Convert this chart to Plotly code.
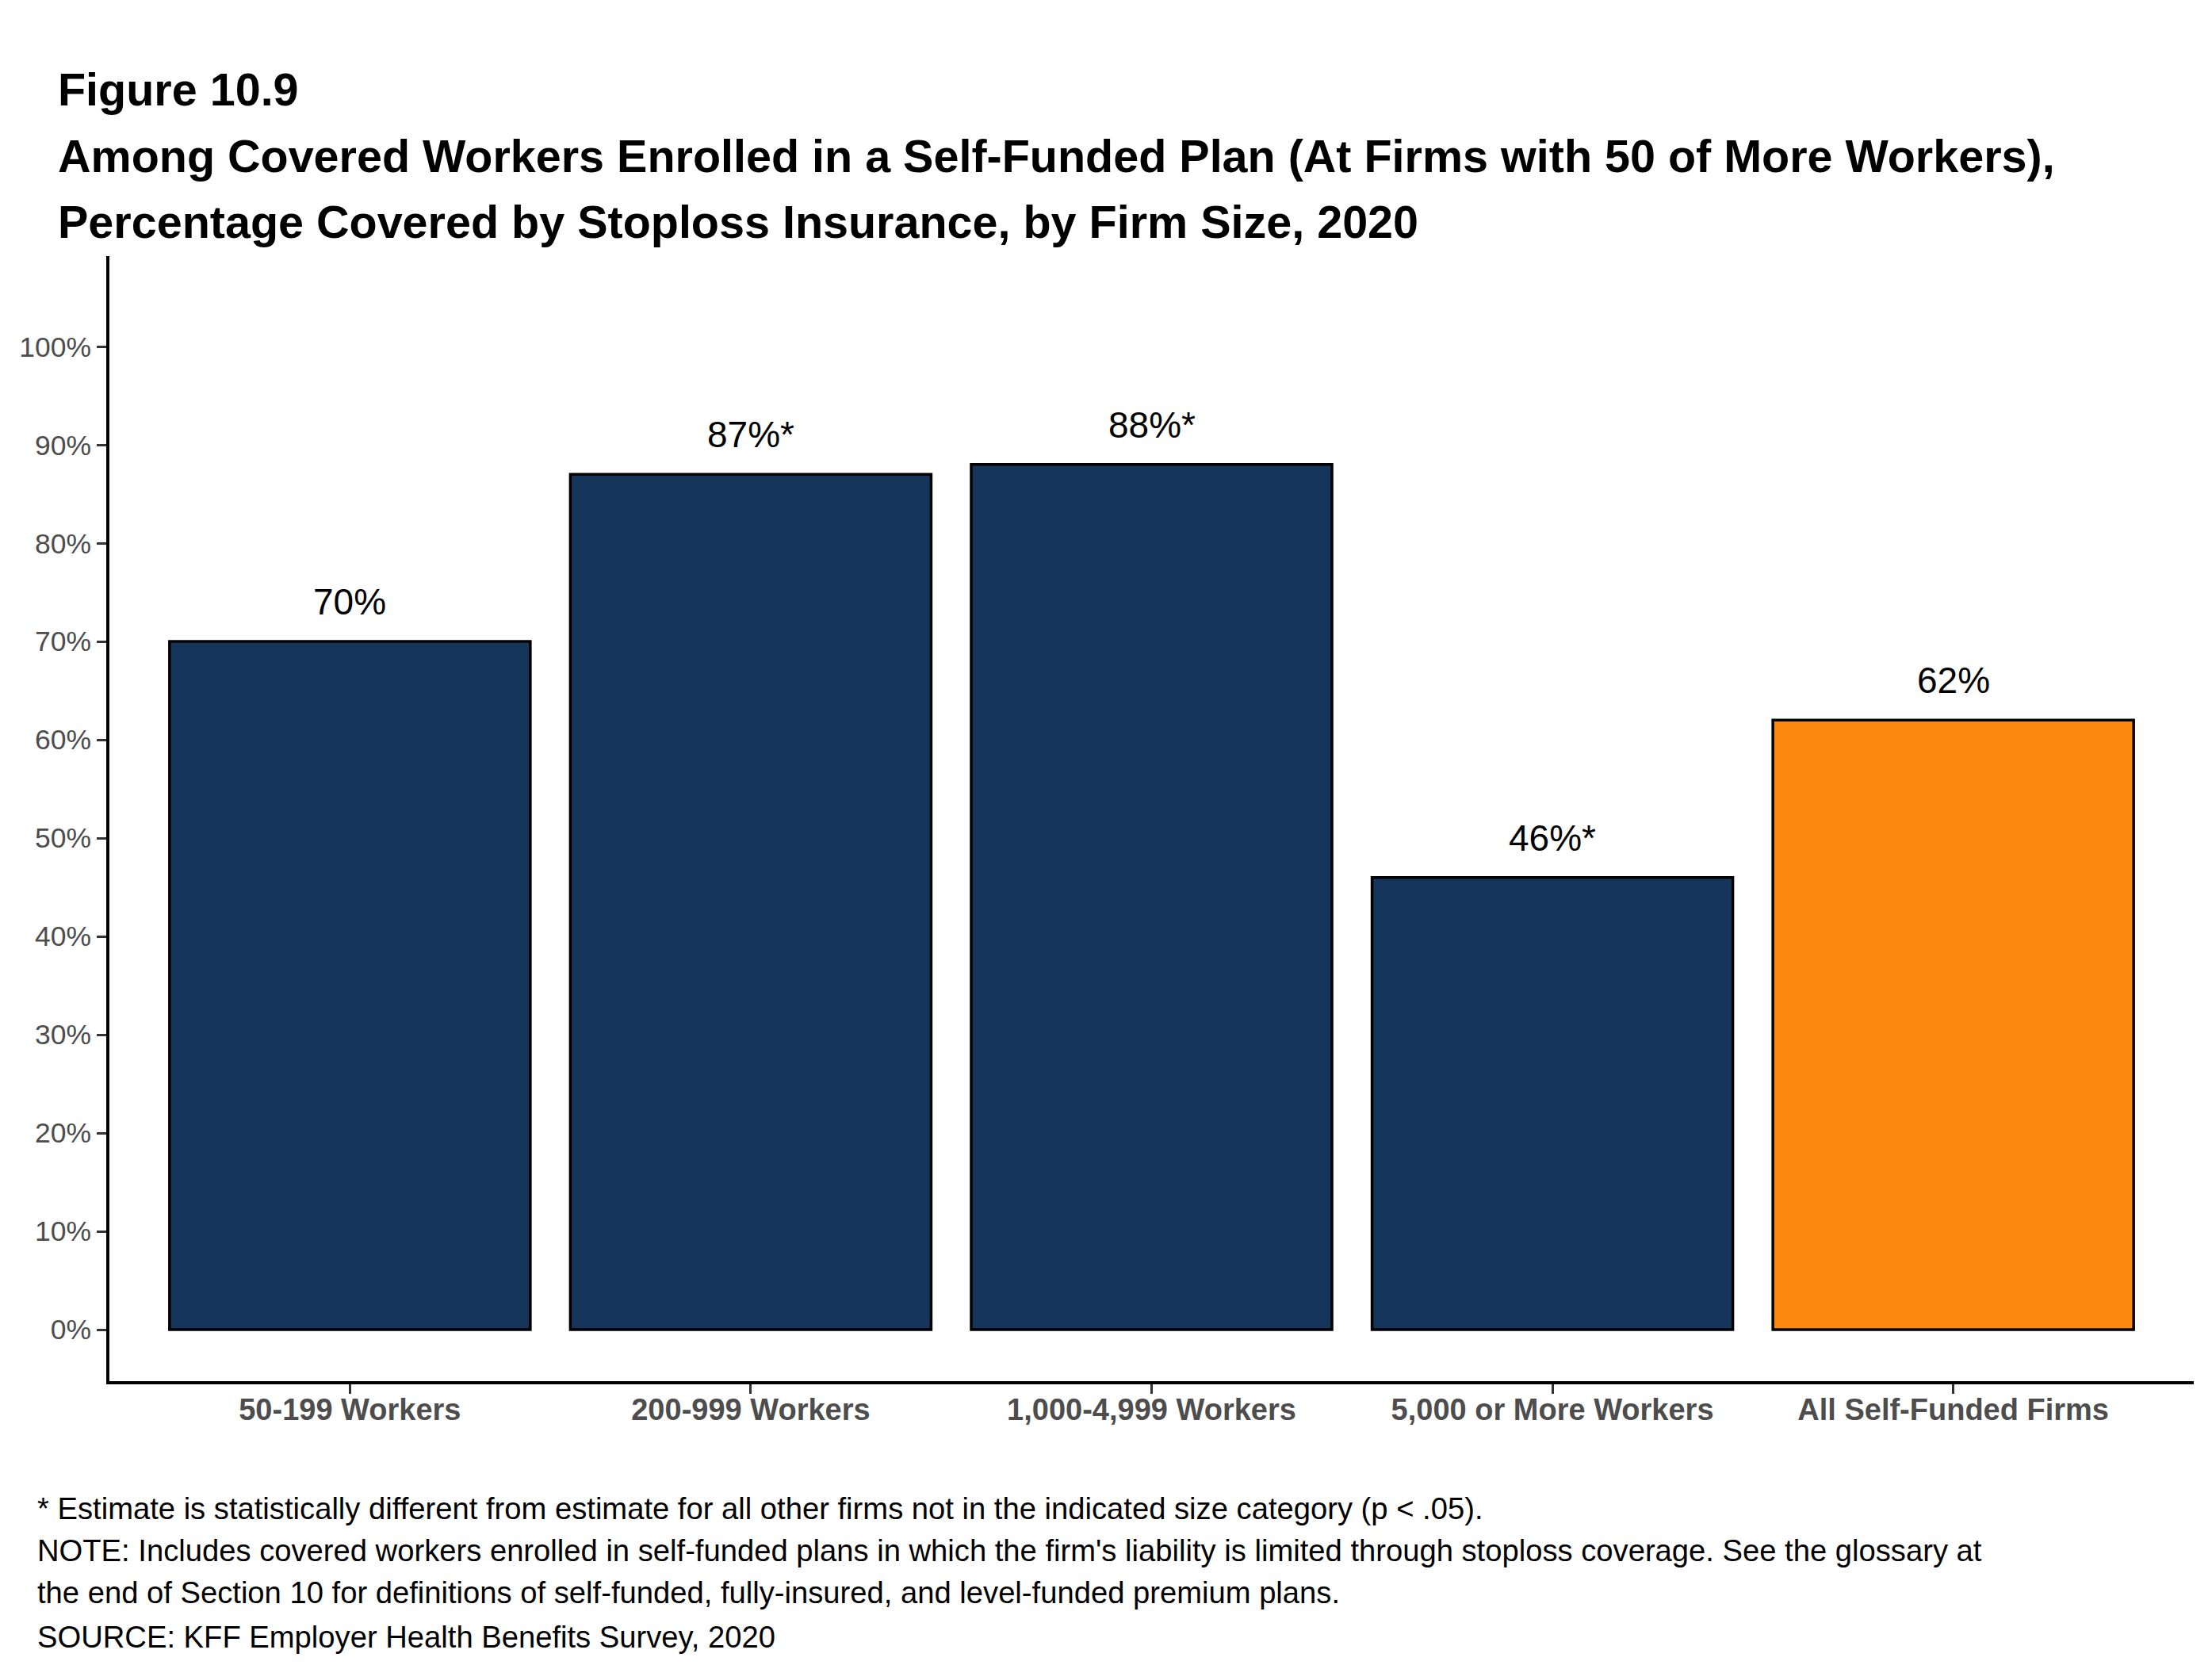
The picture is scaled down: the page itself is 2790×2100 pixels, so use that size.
import plotly.graph_objects as go

categories = ["50-199 Workers", "200-999 Workers", "1,000-4,999 Workers",
              "5,000 or More Workers", "All Self-Funded Firms"]
values = [70, 87, 88, 46, 62]
significant = [False, True, True, True, False]
bar_colors = ["#15355A", "#15355A", "#15355A", "#15355A", "#FF8811"]
y_tick_vals = [0, 10, 20, 30, 40, 50, 60, 70, 80, 90, 100]
y_tick_text = [f"{v}%" for v in y_tick_vals]

title_lines = [
    "Figure 10.9",
    "Among Covered Workers Enrolled in a Self-Funded Plan (At Firms with 50 of More Workers),",
    "Percentage Covered by Stoploss Insurance, by Firm Size, 2020",
]
caption_lines = [
    "* Estimate is statistically different from estimate for all other firms not in the indicated size category (p < .05).",
    "NOTE: Includes covered workers enrolled in self-funded plans in which the firm's liability is limited through stoploss coverage. See the glossary at",
    "the end of Section 10 for definitions of self-funded, fully-insured, and level-funded premium plans.",
    "SOURCE: KFF Employer Health Benefits Survey, 2020",
]

FONT = "Liberation Sans, Arial, sans-serif"
OFF = 8  # page body margin
W, H = 2790 - 2 * OFF, 2100 - 2 * OFF
# target screen positions of the plot area
SCR_L, SCR_R, SCR_T, SCR_B = 138, 2767, 323, 1742
L = SCR_L - OFF
T = SCR_T - OFF
R = W - (SCR_R - OFF)
B = H - (SCR_B - OFF)
PH = H - T - B
PW = W - L - R

def py(screen_px):
    return (SCR_B - screen_px) / PH

def pxp(screen_px):
    return (screen_px - SCR_L) / PW

x_idx = list(range(len(categories)))

fig = go.Figure()
fig.add_trace(go.Bar(
    x=x_idx, y=values, width=0.9,
    marker=dict(color=bar_colors, line=dict(color="black", width=3.5)),
    hoverinfo="skip", showlegend=False,
))

annotations = []
for i, (v, s) in enumerate(zip(values, significant)):
    annotations.append(dict(
        x=i, y=v, xref="x", yref="y", text=f"{v}%" + ("*" if s else ""),
        showarrow=False, yanchor="middle", xanchor="center", yshift=50,
        font=dict(family=FONT, size=46, color="black"),
    ))

title_y = [112.6, 196.6, 279.6]
for t, yy in zip(title_lines, title_y):
    annotations.append(dict(
        x=pxp(71), y=py(yy), xref="paper", yref="paper", text=f"<b>{t}</b>",
        showarrow=False, xanchor="left", yanchor="middle",
        font=dict(family=FONT, size=57.5, color="black"),
    ))

cap_y = [1902, 1955, 2009, 2064]
for t, yy in zip(caption_lines, cap_y):
    annotations.append(dict(
        x=pxp(45), y=py(yy), xref="paper", yref="paper", text=t,
        showarrow=False, xanchor="left", yanchor="middle",
        font=dict(family=FONT, size=38.2, color="black"),
    ))

fig.update_layout(
    width=W, height=H,
    margin=dict(l=L, r=R, t=T, b=B, autoexpand=False),
    paper_bgcolor="white", plot_bgcolor="white",
    annotations=annotations,
    bargap=0.1,
    xaxis=dict(
        range=[-0.6, 4.6], tickvals=x_idx,
        ticktext=[f"<b>{c}</b>" for c in categories],
        showline=True, linecolor="black", linewidth=3.5,
        ticks="outside", ticklen=12, tickwidth=3, tickcolor="#333333",
        tickfont=dict(family=FONT, size=38, color="#4D4D4D"),
        ticklabelstandoff=-12,
        showgrid=False, zeroline=False, fixedrange=True,
    ),
    yaxis=dict(
        range=[-5.24, 109.2], tickvals=y_tick_vals, ticktext=y_tick_text,
        showline=True, linecolor="black", linewidth=3.5,
        ticks="outside", ticklen=12, tickwidth=3, tickcolor="#333333",
        tickfont=dict(family=FONT, size=35.5, color="#4D4D4D"),
        showgrid=False, zeroline=False, fixedrange=True,
    ),
)

fig.write_html("out.html")
